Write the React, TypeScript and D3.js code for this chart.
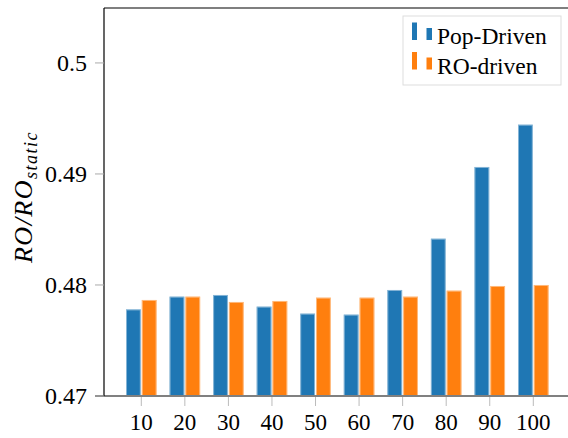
import React from "react";
import * as d3 from "d3";

const categories = ["10", "20", "30", "40", "50", "60", "70", "80", "90", "100"];
const popDriven = [0.4778, 0.47895, 0.4791, 0.47805, 0.47742, 0.47733, 0.47955, 0.48417, 0.49063, 0.49444];
const roDriven = [0.47865, 0.47895, 0.47847, 0.47856, 0.47886, 0.47886, 0.47895, 0.47949, 0.47991, 0.48];
const yTicks = [0.47, 0.48, 0.49, 0.5];
const seriesNames = ["Pop-Driven", "RO-driven"];
const colors = ["#1f77b4", "#ff7f0e"];

const W = 568, H = 438;
const left = 104, top = 8, bottom = 396, right = 568;
const font = "'Liberation Serif', 'Times New Roman', serif";

export default function App() {
  const y = d3.scaleLinear().domain([0.47, 0.50495]).range([bottom, top]);
  const x = d3.scalePoint<string>().domain(categories).range([141.3, 533.3]);
  const bw = 14.8;
  const series = [popDriven, roDriven];
  return (
    <svg width={W} height={H} style={{ position: "absolute", left: 0, top: 0 }}>
      <rect width={W} height={H} fill="#fff" />
      {series.map((vals, si) =>
        vals.map((v, i) => {
          const cx = x(categories[i])!;
          const x0 = si === 0 ? cx - bw - 0.5 : cx + 0.5;
          return (
            <g key={`${si}-${i}`}>
              <rect x={x0} y={y(v)} width={bw} height={bottom - y(v)} fill={colors[si]} />
              <rect x={x0 + 0.5} y={y(v) + 0.5} width={bw - 1} height={bottom - y(v) - 0.5} fill="none" stroke="#fff" strokeOpacity={0.45} strokeWidth={1} />
            </g>
          );
        })
      )}
      {/* axes */}
      <line x1={95} x2={right} y1={bottom} y2={bottom} stroke="#808080" strokeWidth={2} />
      <line x1={left} x2={left} y1={top} y2={bottom} stroke="#000" strokeWidth={1.2} />
      <line x1={left} x2={right} y1={top} y2={top} stroke="#000" strokeWidth={1.2} />
      {yTicks.map((t) => (
        <g key={t}>
          <line x1={95} x2={left} y1={y(t)} y2={y(t)} stroke="#aaa" strokeWidth={1} />
          <text x={87} y={y(t)} dy="0.35em" textAnchor="end" fontFamily={font} fontSize={24} fill="#000">
            {String(t)}
          </text>
        </g>
      ))}
      {categories.map((c) => (
        <g key={c}>
          <line x1={x(c)} x2={x(c)} y1={bottom + 1} y2={bottom + 10} stroke="#bbb" strokeWidth={1} />
          <text x={x(c)} y={430} textAnchor="middle" fontFamily={font} fontSize={23} fill="#000">
            {c}
          </text>
        </g>
      ))}
      <text transform={`translate(32,197) rotate(-90)`} textAnchor="middle" fontFamily={font} fontSize={26} fontStyle="italic" letterSpacing={1.5} fill="#000">
        RO/RO
        <tspan fontSize={18} dy={5}>static</tspan>
      </text>
      {/* legend */}
      <rect x={403} y={16} width={158} height={69} fill="#fff" stroke="#ddd" strokeWidth={1} />
      {seriesNames.map((n, i) => {
        const yy = 40 + i * 29.5;
        return (
          <g key={n}>
            <rect x={412} y={yy - 17.5} width={5} height={17.5} fill={colors[i]} />
            <rect x={426.5} y={yy - 12} width={5.5} height={12} fill={colors[i]} />
            <text x={437} y={yy + 4} fontFamily={font} fontSize={23.5} fill="#000">
              {n}
            </text>
          </g>
        );
      })}
    </svg>
  );
}
